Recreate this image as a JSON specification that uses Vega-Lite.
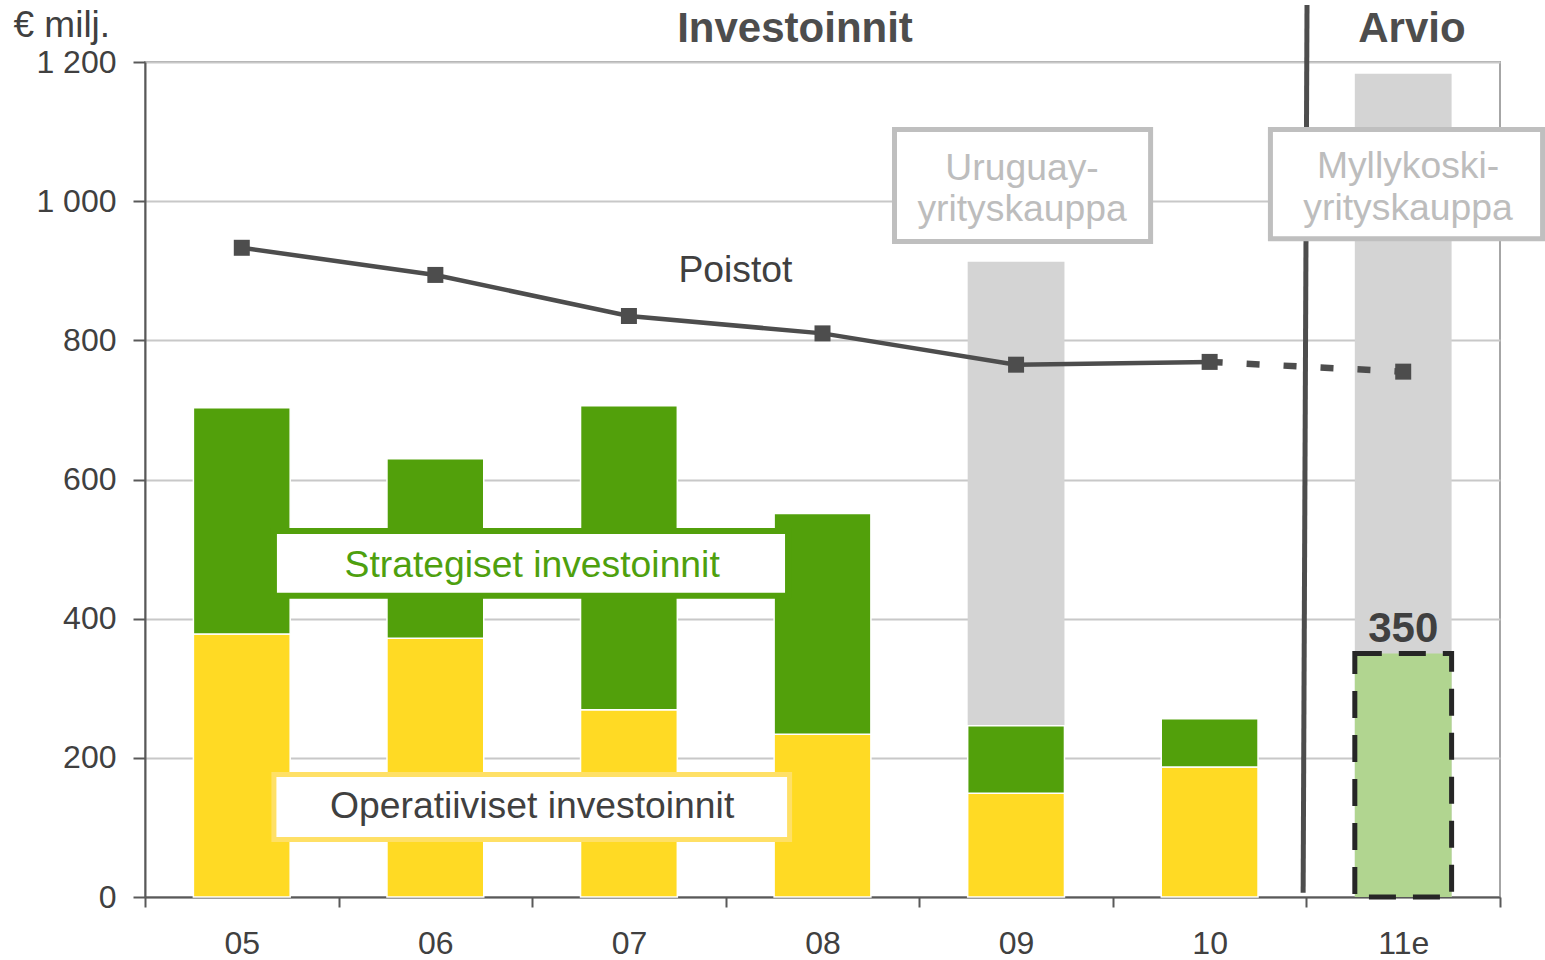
{
  "$schema": "https://vega.github.io/schema/vega-lite/v6.json",
  "width": 1355,
  "height": 835,
  "autosize": {"type": "none"},
  "padding": {"left": 145, "top": 62, "right": 45, "bottom": 63},
  "background": "white",
  "config": {
    "font": "Liberation Sans",
    "view": {"stroke": "#A6A6A6", "strokeWidth": 2},
    "axis": {
      "labelFont": "Liberation Sans",
      "labelColor": "#404040",
      "domainColor": "#595959",
      "domainWidth": 2,
      "tickColor": "#595959",
      "tickWidth": 2
    },
    "axisX": {
      "labelFontSize": 32,
      "labelPadding": 21,
      "tickSize": 10,
      "labelAngle": 0,
      "grid": false
    },
    "axisY": {
      "labelFontSize": 32,
      "labelPadding": 17,
      "tickSize": 12,
      "tickCount": 6,
      "grid": true,
      "gridColor": "#C8C8C8",
      "gridWidth": 2,
      "titleAngle": 0,
      "titleAlign": "left",
      "titleBaseline": "alphabetic",
      "titleX": -132,
      "titleY": -26,
      "titleFont": "Liberation Sans",
      "titleFontSize": 37,
      "titleFontWeight": "normal",
      "titleColor": "#404040",
      "labelExpr": "replace(format(datum.value, ','), ',', ' ')"
    }
  },
  "datasets": {
    "inv": [
      {"year": "05", "type": "Operatiiviset", "value": 378},
      {"year": "05", "type": "Strategiset", "value": 325},
      {"year": "06", "type": "Operatiiviset", "value": 372},
      {"year": "06", "type": "Strategiset", "value": 258},
      {"year": "07", "type": "Operatiiviset", "value": 269},
      {"year": "07", "type": "Strategiset", "value": 437},
      {"year": "08", "type": "Operatiiviset", "value": 234},
      {"year": "08", "type": "Strategiset", "value": 317},
      {"year": "09", "type": "Operatiiviset", "value": 149},
      {"year": "09", "type": "Strategiset", "value": 97},
      {"year": "10", "type": "Operatiiviset", "value": 187},
      {"year": "10", "type": "Strategiset", "value": 69}
    ],
    "acq": [
      {"year": "09", "value": 913},
      {"year": "11e", "value": 1183}
    ],
    "est": [
      {"year": "11e", "value": 350, "label": "350"}
    ],
    "poistot": [
      {"year": "05", "value": 933},
      {"year": "06", "value": 894},
      {"year": "07", "value": 835},
      {"year": "08", "value": 810},
      {"year": "09", "value": 765},
      {"year": "10", "value": 769},
      {"year": "11e", "value": 755}
    ]
  },
  "resolve": {"scale": {"x": "independent"}},
  "layer": [
    {
      "encoding": {
        "x": {
          "field": "year",
          "type": "ordinal",
          "title": null,
          "scale": {"domain": ["05", "06", "07", "08", "09", "10", "11e"], "paddingInner": 0, "paddingOuter": 0},
          "axis": {"tickBand": "extent"}
        }
      },
      "layer": [
        {
          "data": {"name": "acq"},
          "mark": {"type": "bar", "color": "#D4D4D4", "width": {"band": 0.5}},
          "encoding": {
            "y": {"field": "value", "type": "quantitative", "title": "€ milj.", "scale": {"domain": [0, 1200], "nice": false}, "axis": {"titleFontSize": 37, "titleFontWeight": "normal"}}
          }
        },
        {
          "data": {"name": "inv"},
          "mark": {"type": "bar", "width": {"band": 0.5}, "stroke": "white", "strokeWidth": 1.5},
          "encoding": {
            "y": {"field": "value", "type": "quantitative", "stack": "zero", "title": "€ milj.", "scale": {"domain": [0, 1200], "nice": false}},
            "color": {"field": "type", "type": "nominal", "scale": {"domain": ["Operatiiviset", "Strategiset"], "range": ["#FFDA24", "#52A00B"]}, "legend": null},
            "order": {"field": "type", "sort": "ascending"}
          }
        },
        {
          "data": {"name": "est"},
          "mark": {"type": "bar", "width": {"band": 0.5}, "fill": "#B1D590", "stroke": "#262626", "strokeWidth": 5, "strokeDash": [27, 17]},
          "encoding": {
            "y": {"field": "value", "type": "quantitative", "title": "€ milj.", "scale": {"domain": [0, 1200], "nice": false}}
          }
        },
        {
          "data": {"name": "est"},
          "mark": {"type": "text", "fontSize": 42, "fontWeight": "bold", "color": "#404040", "baseline": "alphabetic", "dy": -11},
          "encoding": {
            "y": {"field": "value", "type": "quantitative", "title": "€ milj.", "scale": {"domain": [0, 1200], "nice": false}},
            "text": {"field": "label"}
          }
        },
        {
          "data": {"name": "poistot"},
          "transform": [{"filter": {"not": {"field": "year", "equal": "11e"}}}],
          "mark": {"type": "line", "color": "#4D4D4D", "strokeWidth": 4.5},
          "encoding": {
            "y": {"field": "value", "type": "quantitative", "title": "€ milj.", "scale": {"domain": [0, 1200], "nice": false}}
          }
        },
        {
          "data": {"name": "poistot"},
          "transform": [{"filter": {"field": "year", "oneOf": ["10", "11e"]}}],
          "mark": {"type": "line", "color": "#4D4D4D", "strokeWidth": 6.5, "strokeDash": [13, 24]},
          "encoding": {
            "y": {"field": "value", "type": "quantitative", "title": "€ milj.", "scale": {"domain": [0, 1200], "nice": false}}
          }
        },
        {
          "data": {"name": "poistot"},
          "mark": {"type": "point", "shape": "square", "filled": true, "size": 256, "color": "#4D4D4D", "opacity": 1},
          "encoding": {
            "y": {"field": "value", "type": "quantitative", "title": "€ milj.", "scale": {"domain": [0, 1200], "nice": false}}
          }
        }
      ]
    },
    {
      "encoding": {
        "x": {"field": "x", "type": "quantitative", "scale": {"domain": [0, 7], "nice": false, "zero": false}, "axis": null},
        "y": {"field": "y", "type": "quantitative", "title": "€ milj.", "scale": {"domain": [0, 1200], "nice": false}}
      },
      "layer": [
        {
          "data": {"values": [{"x": 6.003, "y": 1282, "x2": 5.983, "y2": 6}]},
          "mark": {"type": "rule", "color": "#4D4D4D", "strokeWidth": 5},
          "encoding": {"x2": {"field": "x2"}, "y2": {"field": "y2"}}
        },
        {
          "data": {"values": [{"x": 0.666, "x2": 3.322, "y": 433, "y2": 526}]},
          "mark": {"type": "rect", "fill": "white", "stroke": "#52A00B", "strokeWidth": 6},
          "encoding": {"x2": {"field": "x2"}, "y2": {"field": "y2"}}
        },
        {
          "data": {"values": [{"x": 0.666, "x2": 3.33, "y": 82.6, "y2": 176}]},
          "mark": {"type": "rect", "fill": "white", "stroke": "#FFE066", "strokeWidth": 5},
          "encoding": {"x2": {"field": "x2"}, "y2": {"field": "y2"}}
        },
        {
          "data": {"values": [{"x": 3.872, "x2": 5.195, "y": 942, "y2": 1103}, {"x": 5.814, "x2": 7.22, "y": 946, "y2": 1103}]},
          "mark": {"type": "rect", "fill": "white", "stroke": "#BFBFBF", "strokeWidth": 5},
          "encoding": {"x2": {"field": "x2"}, "y2": {"field": "y2"}}
        },
        {
          "data": {"values": [{"x": 2.0, "y": 460, "text": "Strategiset investoinnit"}]},
          "mark": {"type": "text", "fontSize": 37.3, "color": "#4EA00E", "baseline": "alphabetic", "align": "center"},
          "encoding": {"text": {"field": "text"}}
        },
        {
          "data": {"values": [{"x": 2.0, "y": 113.5, "text": "Operatiiviset investoinnit"}, {"x": 3.05, "y": 884, "text": "Poistot"}]},
          "mark": {"type": "text", "fontSize": 37.3, "color": "#404040", "baseline": "alphabetic", "align": "center"},
          "encoding": {"text": {"field": "text"}}
        },
        {
          "data": {"values": [
            {"x": 4.531, "y": 1030.4, "text": "Uruguay-"},
            {"x": 4.531, "y": 971.5, "text": "yrityskauppa"},
            {"x": 6.525, "y": 1033, "text": "Myllykoski-"},
            {"x": 6.525, "y": 973, "text": "yrityskauppa"}
          ]},
          "mark": {"type": "text", "fontSize": 37.3, "color": "#BDBDBD", "baseline": "alphabetic", "align": "center"},
          "encoding": {"text": {"field": "text"}}
        },
        {
          "data": {"values": [{"x": 3.358, "y": 1228.7, "text": "Investoinnit"}, {"x": 6.545, "y": 1228.7, "text": "Arvio"}]},
          "mark": {"type": "text", "fontSize": 42, "fontWeight": "bold", "color": "#4D4D4D", "baseline": "alphabetic", "align": "center"},
          "encoding": {"text": {"field": "text"}}
        }
      ]
    }
  ]
}
